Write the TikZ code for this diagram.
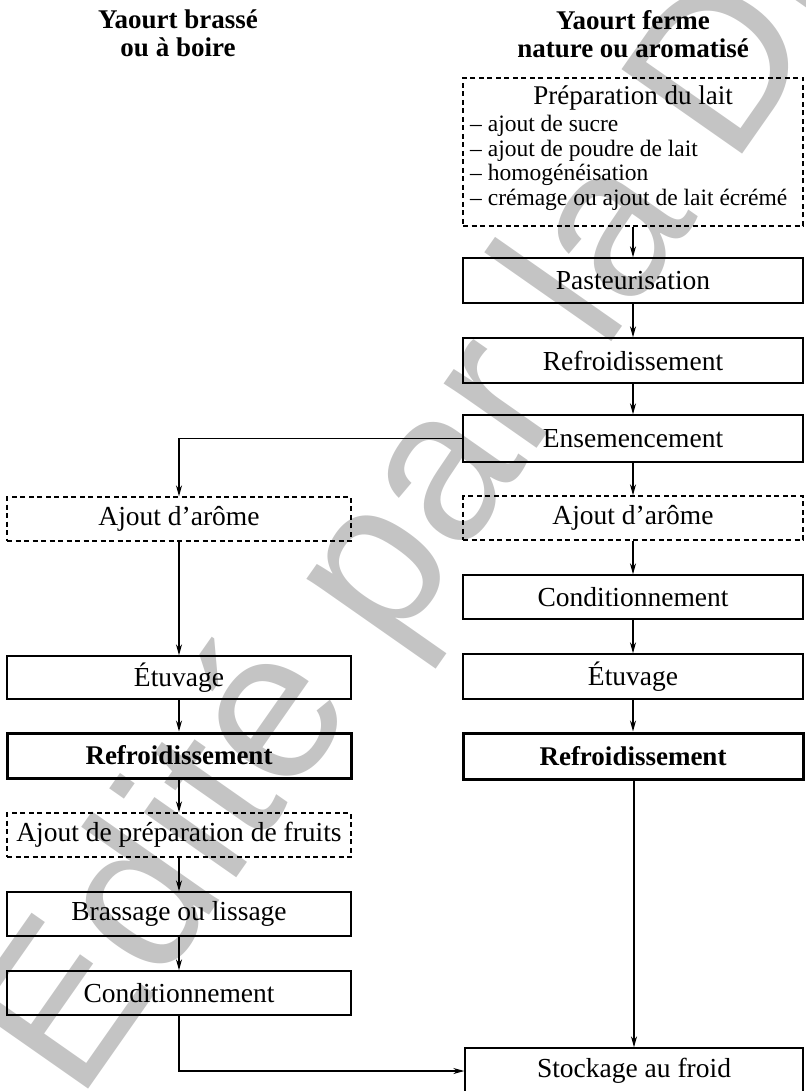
\documentclass[tikz,border=0pt]{standalone}
\usepackage{fontspec}
\setmainfont{Liberation Serif}
\newfontfamily\wmfont{Liberation Sans}
\usetikzlibrary{arrows.meta}

\begin{document}
\begin{tikzpicture}[x=1pt,y=-1pt,
  box/.style={draw, line width=1.4pt, minimum height=45pt, inner sep=0pt,
    font=\fontsize{27.5}{32}\selectfont},
  leftbox/.style={box, minimum width=344pt},
  rightbox/.style={box, minimum width=340pt},
  optbox/.style={dash pattern=on 5pt off 3.5pt},
  keybox/.style={line width=3pt, font=\bfseries\fontsize{27}{32}\selectfont},
  coltitle/.style={align=center, font=\bfseries\fontsize{27}{28}\selectfont},
  listline/.style={anchor=base west, inner sep=0pt, font=\fontsize{23.5}{25}\selectfont},
  flow/.style={line width=1.3pt, -{Stealth[length=11pt,width=6pt]}},
  watermark/.style={rotate=55, anchor=base west, inner sep=0pt, text=black!23,
    font=\wmfont\fontsize{214}{214}\selectfont},
]
\useasboundingbox (0,0) rectangle (805,1091);

% publisher stamp across the page
\node[watermark] (wm) at (78,1104) {Edité par la DILA};

% column headings
\node[coltitle] (titleL) at (178,33) {Yaourt brassé\\ou à boire};
\node[coltitle] (titleR) at (633,34) {Yaourt ferme\\nature ou aromatisé};

% right column: set yoghurt
\node[rightbox, optbox, minimum height=148pt] (prep) at (633,152) {};
\node[anchor=base, inner sep=0pt, font=\fontsize{27}{30}\selectfont] (preptitle) at (633,105) {Préparation du lait};
\node[listline] (prep1) at (470,132) {– ajout de sucre};
\node[listline] (prep2) at (470,156.5) {– ajout de poudre de lait};
\node[listline] (prep3) at (470,181) {– homogénéisation};
\node[listline] (prep4) at (470,205.5) {– crémage ou ajout de lait écrémé};

\node[rightbox] (past)   at (633,280.5) {Pasteurisation};
\node[rightbox] (refr1)  at (633,360.5) {Refroidissement};
\node[rightbox, minimum height=47pt] (ens) at (633,438.5) {Ensemencement};
\node[rightbox, optbox, minimum height=44pt] (aromeR) at (633,518) {Ajout d’arôme};
\node[rightbox, minimum height=44pt] (condR) at (633,597) {Conditionnement};
\node[rightbox] (etuvR)  at (633,676.5) {Étuvage};
\node[rightbox, keybox, minimum height=46pt] (refrR) at (633,756) {Refroidissement};
\node[box, minimum width=338pt, minimum height=46pt] (stock) at (634,1071) {Stockage au froid};

% left column: stirred or drinking yoghurt
\node[leftbox, optbox, minimum height=44pt] (aromeL) at (179,519) {Ajout d’arôme};
\node[leftbox, minimum height=43pt] (etuvL) at (179,677.5) {Étuvage};
\node[leftbox, keybox] (refrL) at (179,755.5) {Refroidissement};
\node[leftbox, optbox, minimum height=44pt] (fruits) at (179,835) {Ajout de préparation de fruits};
\node[leftbox, minimum height=44pt] (brass) at (179,914) {Brassage ou lissage};
\node[leftbox, minimum height=44pt] (condL) at (179,993) {Conditionnement};

% connectors, right column
\draw[flow] (prep) -- (past);
\draw[flow] (past) -- (refr1);
\draw[flow] (refr1) -- (ens);
\draw[flow] (ens) -- (aromeR);
\draw[flow] (aromeR) -- (condR);
\draw[flow] (condR) -- (etuvR);
\draw[flow] (etuvR) -- (refrR);
\draw[flow] (refrR.south -| stock.north) -- (stock.north);

% connectors, left column
\draw[flow] (ens.west) -| (aromeL.north);
\draw[flow] (aromeL) -- (etuvL);
\draw[flow] (etuvL) -- (refrL);
\draw[flow] (refrL) -- (fruits);
\draw[flow] (fruits) -- (brass);
\draw[flow] (brass) -- (condL);
\draw[flow] (condL.south) |- (stock.west);
\end{tikzpicture}
\end{document}
